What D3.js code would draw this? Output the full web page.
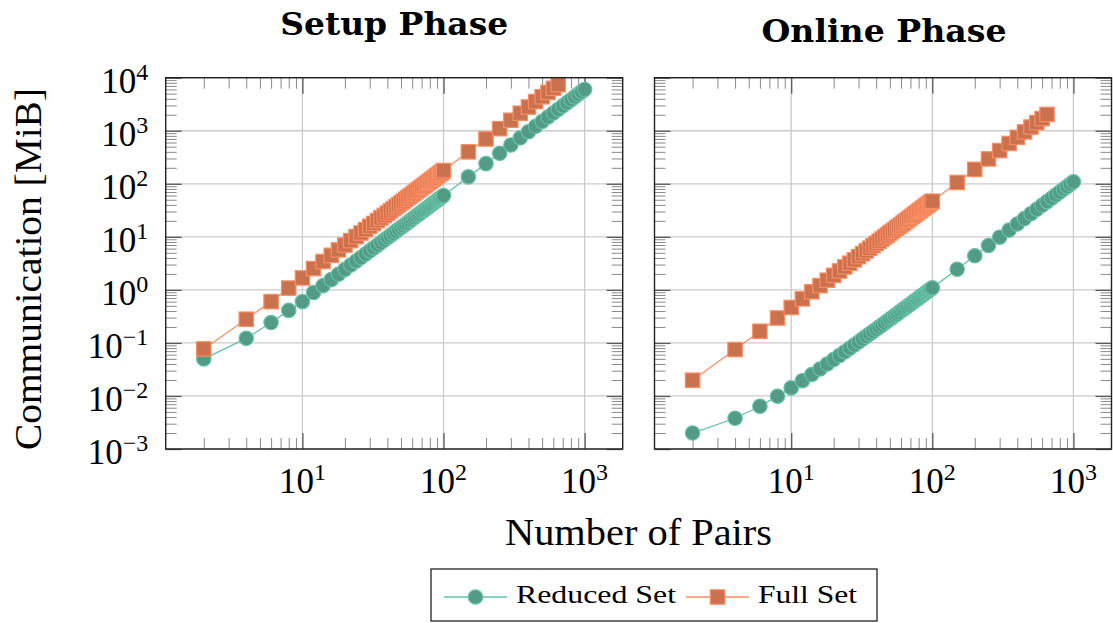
<!DOCTYPE html>
<html>
<head>
<meta charset="utf-8">
<script src="https://cdn.jsdelivr.net/npm/d3@7"></script>
<style>
  body { margin: 0; background: #fff; }
</style>
</head>
<body>
<svg id="chart"></svg>
<script>
const width = 1113;
const height = 623;

// number of pairs (x values)
const pairsReduced = [2,4,6,8,10,12,14,16,18,20,22,24,26,28,30,32,34,36,38,40,42,44,46,48,50,
  52,54,56,58,60,62,64,66,68,70,72,74,76,78,80,82,84,86,88,90,92,94,96,98,100,
  150,200,250,300,350,400,450,500,550,600,650,700,750,800,850,900,950,1000];
const pairsFull = [2,4,6,8,10,12,14,16,18,20,22,24,26,28,30,32,34,36,38,40,42,44,46,48,50,
  52,54,56,58,60,62,64,66,68,70,72,74,76,78,80,82,84,86,88,90,92,94,96,98,100,
  150,200,250,300,350,400,450,500,550,600,650];

// communication in MiB
const setupReduced = [0.050,0.122,0.242,0.410,0.60,0.89,1.20,1.56,1.97,2.43,2.93,3.48,4.08,4.73,5.43,
  6.17,6.96,7.80,8.69,9.63,10.6,11.6,12.7,13.9,15.0,16.2,17.5,18.8,20.2,21.6,23.1,24.6,26.2,27.8,
  29.4,31.1,32.9,34.7,36.5,38.4,40.3,42.3,44.4,46.5,48.6,50.8,53.0,55.3,57.6,60.0,
  135,240,375,540,735,960,1215,1500,1815,2160,2535,2940,3375,3840,4335,4860,5415,6000];
const setupFull = [0.077,0.28,0.60,1.08,1.68,2.52,3.43,4.48,5.67,7.00,8.47,10.1,11.8,13.7,15.8,
  17.9,20.2,22.7,25.3,28.0,30.9,33.9,37.0,40.3,43.8,47.3,51.0,54.9,58.9,63.0,67.3,71.7,76.2,80.9,
  85.8,90.7,95.8,101,106,112,118,123,129,136,142,148,155,161,168,178,
  400,700,1094,1575,2144,2800,3544,4375,5294,6300,7394];
const onlineReduced = [0.0020,0.0038,0.0064,0.0099,0.0142,0.0194,0.0254,0.0323,0.0400,0.0486,
  0.0580,0.0683,0.0795,0.0914,0.104,0.118,0.133,0.148,0.164,0.181,0.199,0.218,0.238,0.258,0.280,
  0.302,0.325,0.349,0.373,0.399,0.426,0.453,0.481,0.510,0.540,0.571,0.602,0.635,0.668,0.702,
  0.737,0.773,0.809,0.847,0.885,0.925,0.965,1.01,1.05,1.09,
  2.45,4.4,6.85,9.85,13.4,17.5,22.1,27.3,33.0,39.3,46.1,53.5,61.4,69.8,78.8,88.3,98.4,109];
const onlineFull = [0.0198,0.075,0.166,0.295,0.466,0.677,0.921,1.20,1.52,1.88,2.27,2.71,3.18,3.68,
  4.23,4.81,5.43,6.09,6.79,7.52,8.29,9.10,9.95,10.8,11.8,12.7,13.7,14.7,15.8,16.9,18.1,19.3,20.5,
  21.7,23.0,24.4,25.7,27.1,28.6,30.1,31.6,33.2,34.8,36.4,38.1,39.8,41.5,43.3,45.1,47.0,
  106,187,294,423,576,752,952,1175,1422,1692,2030];

const panelTitles = ['Setup Phase', 'Online Phase'];
const seriesNames = ['Reduced Set', 'Full Set'];
const yDomain = [1e-3, 1e4];

const colors = [
  { line: '#66c2a5', fill: '#529b84' },
  { line: '#fc8d62', fill: '#ca714e' }
];

const serif = 'Liberation Serif';
const plotW = 457, plotH = 371.3, plotTop = 77.7;
const panelLeft = [165.7, 654.5];
const titleY = [35, 42];

const svg = d3.select('#chart').attr('width', width).attr('height', height);

// x limits enlarged by 10% on both sides (log space)
const lo = Math.log10(d3.min(pairsReduced)), hi = Math.log10(d3.max(pairsReduced));
const pad = 0.1 * (hi - lo);
const x = d3.scaleLog().domain([10 ** (lo - pad), 10 ** (hi + pad)]).range([0, plotW]);
const y = d3.scaleLog().domain(yDomain).range([plotH, 0]);

function isMajor(d) {
  const l = Math.log10(d);
  return Math.abs(l - Math.round(l)) < 1e-9;
}
const xMajor = x.ticks().filter(isMajor), xMinor = x.ticks().filter(d => !isMajor(d));
const yMajor = y.ticks().filter(isMajor), yMinor = y.ticks().filter(d => !isMajor(d));

function powLabel(sel, d) {
  const e = Math.round(Math.log10(d));
  sel.append('tspan').text('10');
  sel.append('tspan').attr('dy', -13).attr('font-size', 24)
    .text(e < 0 ? '\u2212' + (-e) : String(e));
}

const panels = [
  { title: panelTitles[0], series: [[pairsReduced, setupReduced], [pairsFull, setupFull]] },
  { title: panelTitles[1], series: [[pairsReduced, onlineReduced], [pairsFull, onlineFull]] }
];

panels.forEach((p, i) => {
  const g = svg.append('g').attr('transform', `translate(${panelLeft[i]},${plotTop})`);

  // grid
  g.append('g').selectAll('line').data(xMajor).join('line')
    .attr('x1', d => x(d)).attr('x2', d => x(d)).attr('y1', 0).attr('y2', plotH)
    .attr('stroke', '#cbcbcb').attr('stroke-width', 1.3);
  g.append('g').selectAll('line').data(yMajor).join('line')
    .attr('y1', d => y(d)).attr('y2', d => y(d)).attr('x1', 0).attr('x2', plotW)
    .attr('stroke', '#cbcbcb').attr('stroke-width', 1.3);

  // inward ticks on all four sides
  const sides = [
    [d3.axisBottom, x, 0, plotH], [d3.axisTop, x, 0, 0],
    [d3.axisLeft, y, 0, 0], [d3.axisRight, y, plotW, 0]
  ];
  sides.forEach(([axisFn, sc, tx, ty]) => {
    const minor = sc === x ? xMinor : yMinor;
    const major = sc === x ? xMajor : yMajor;
    [[minor, -11, '#8a8a8a', 1], [major, -16, '#5a5a5a', 1.3]].forEach(([vals, size, col, sw]) => {
      const a = g.append('g').attr('transform', `translate(${tx},${ty})`)
        .call(axisFn(sc).tickValues(vals).tickSize(size).tickFormat(''));
      a.select('.domain').remove();
      a.selectAll('line').attr('stroke', col).attr('stroke-width', sw);
    });
  });

  // series: line then marks, reduced set first
  const line = d3.line().x(d => x(d[0])).y(d => y(d[1]));
  p.series.forEach(([xs, ys], k) => {
    const pts = d3.zip(xs, ys);
    g.append('path').datum(pts).attr('d', line)
      .attr('fill', 'none').attr('stroke', colors[k].line).attr('stroke-width', 1.3);
    const marks = g.append('g').attr('fill', colors[k].fill)
      .attr('stroke', colors[k].line).attr('stroke-width', 1.2);
    if (k === 0) {
      marks.selectAll('circle').data(pts).join('circle')
        .attr('cx', d => x(d[0])).attr('cy', d => y(d[1])).attr('r', 7.2);
    } else {
      marks.selectAll('rect').data(pts).join('rect')
        .attr('x', d => x(d[0]) - 7.2).attr('y', d => y(d[1]) - 7.2)
        .attr('width', 14.4).attr('height', 14.4);
    }
  });

  // frame
  g.append('rect').attr('width', plotW).attr('height', plotH)
    .attr('fill', 'none').attr('stroke', '#222').attr('stroke-width', 1.4);

  // x tick labels
  g.append('g').selectAll('text').data(xMajor).join('text')
    .attr('x', d => x(d)).attr('y', plotH + 44).attr('text-anchor', 'middle')
    .attr('font-family', serif).attr('font-size', 35)
    .each(function(d) { powLabel(d3.select(this), d); });

  // y tick labels only on the left panel
  if (i === 0) {
    g.append('g').selectAll('text').data(yMajor).join('text')
      .attr('x', -17.5).attr('y', d => y(d) + 15).attr('text-anchor', 'end')
      .attr('font-family', serif).attr('font-size', 35)
      .each(function(d) { powLabel(d3.select(this), d); });
  }

  // title
  svg.append('text').attr('x', panelLeft[i] + plotW / 2 + i)
    .attr('y', titleY[i]).attr('text-anchor', 'middle')
    .attr('font-family', 'DejaVu Serif').attr('font-weight', 'bold').attr('font-size', 32)
    .attr('textLength', i === 0 ? 228 : 245).attr('lengthAdjust', 'spacingAndGlyphs')
    .text(p.title);
});

// axis labels
svg.append('text').attr('x', 638.5).attr('y', 545).attr('text-anchor', 'middle')
  .attr('font-family', serif).attr('font-size', 37)
  .attr('textLength', 267).attr('lengthAdjust', 'spacingAndGlyphs')
  .text('Number of Pairs');
svg.append('text').attr('transform', 'translate(41,269) rotate(-90)').attr('text-anchor', 'middle')
  .attr('font-family', serif).attr('font-size', 37)
  .attr('textLength', 362).attr('lengthAdjust', 'spacingAndGlyphs')
  .text('Communication [MiB]');

// legend
const legend = svg.append('g').attr('transform', 'translate(431,569)');
legend.append('rect').attr('width', 446).attr('height', 52)
  .attr('fill', '#fff').attr('stroke', '#222').attr('stroke-width', 1.3);
const legendX = [13, 255];
const textW = [160, 99];
seriesNames.forEach((name, k) => {
  const e = legend.append('g').attr('transform', `translate(${legendX[k]},28)`);
  e.append('line').attr('x1', 0).attr('x2', 63).attr('stroke', colors[k].line).attr('stroke-width', 1.3);
  if (k === 0) {
    e.append('circle').attr('cx', 31.5).attr('r', 7.2)
      .attr('fill', colors[k].fill).attr('stroke', colors[k].line).attr('stroke-width', 1.2);
  } else {
    e.append('rect').attr('x', 31.5 - 7.2).attr('y', -7.2).attr('width', 14.4).attr('height', 14.4)
      .attr('fill', colors[k].fill).attr('stroke', colors[k].line).attr('stroke-width', 1.2);
  }
  e.append('text').attr('x', 72).attr('y', 6)
    .attr('font-family', serif).attr('font-size', 25)
    .attr('textLength', textW[k]).attr('lengthAdjust', 'spacingAndGlyphs')
    .text(name);
});
</script>
</body>
</html>
